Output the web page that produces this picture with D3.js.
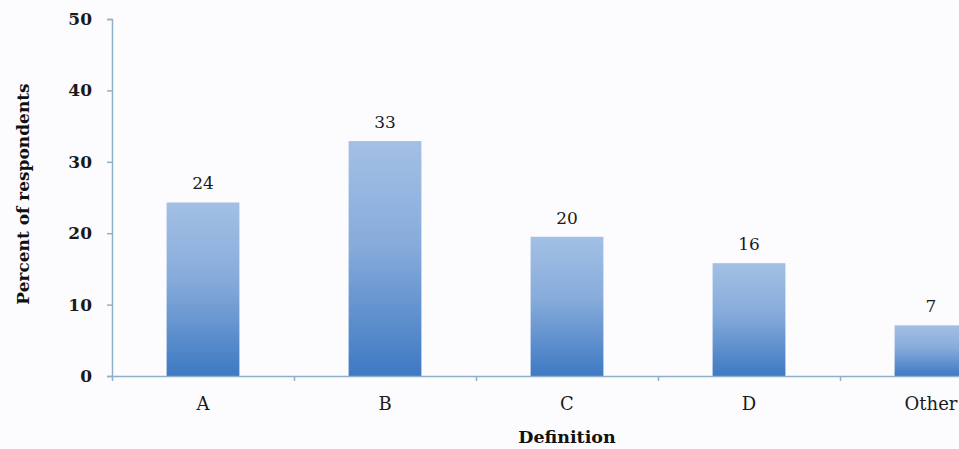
<!DOCTYPE html>
<html>
<head>
<meta charset="utf-8">
<script src="https://cdn.jsdelivr.net/npm/d3@7"></script>
<style>
    body { margin: 0; background: #fcfcfe; }
    svg { display: block; }
    .tick text { font-family: 'DejaVu Serif', serif; }
</style>
</head>
<body>
<div id="chart"></div>
<script>
// data
const categories = ['A', 'B', 'C', 'D', 'Other'];
const values = [24.3, 32.9, 19.5, 15.8, 7.1];
const valueLabels = ['24', '33', '20', '16', '7'];
const yTicks = [0, 10, 20, 30, 40, 50];

const W = 959, H = 449;
const margin = { top: 19, left: 112, bottom: 73 };
// the plot runs past the right edge, the last band is cut
const plotRight = 1022;
const axisColor = '#8fb0c6';

let svg = d3.select('#chart').append('svg')
    .attr('width', W)
    .attr('height', H);

svg.append('rect').attr('width', W).attr('height', H).attr('fill', '#fcfcfe');

let grad = svg.append('defs').append('linearGradient')
    .attr('id', 'barGrad')
    .attr('x1', 0).attr('y1', 0).attr('x2', 0).attr('y2', 1);
grad.append('stop').attr('offset', '0%').attr('stop-color', '#a3c0e4');
grad.append('stop').attr('offset', '45%').attr('stop-color', '#86abdb');
grad.append('stop').attr('offset', '100%').attr('stop-color', '#3e79c2');

const xScale = d3.scaleBand()
    .domain(categories)
    .range([margin.left, plotRight])
    .paddingInner(0.6)
    .paddingOuter(0.3);

const yScale = d3.scaleLinear()
    .domain([0, 50])
    .range([H - margin.bottom, margin.top]);

// bars
svg.selectAll('.bar').data(values).enter()
    .append('rect').classed('bar', true)
    .attr('x', function (d, i) { return xScale(categories[i]); })
    .attr('y', function (d) { return yScale(d); })
    .attr('width', xScale.bandwidth())
    .attr('height', function (d) { return yScale(0) - yScale(d); })
    .attr('fill', 'url(#barGrad)');

// value labels
svg.selectAll('.vlabel').data(values).enter()
    .append('text').classed('vlabel', true)
    .attr('x', function (d, i) { return xScale(categories[i]) + xScale.bandwidth() / 2; })
    .attr('y', function (d) { return yScale(d) - 13; })
    .attr('text-anchor', 'middle')
    .style('font-family', 'DejaVu Serif, serif')
    .style('font-size', '17px')
    .attr('fill', '#1a1a1a')
    .text(function (d, i) { return valueLabels[i]; });

// y axis
let yAxis = d3.axisLeft(yScale).tickValues(yTicks).tickSize(5).tickPadding(15);
let gy = svg.append('g')
    .attr('transform', 'translate(' + margin.left + ',0)')
    .call(yAxis);
gy.select('.domain').attr('stroke', axisColor).attr('stroke-width', 1.5);
gy.selectAll('.tick line').attr('stroke', axisColor).attr('stroke-width', 1.5);
gy.selectAll('.tick text')
    .style('font-size', '17px')
    .style('font-weight', 'bold')
    .attr('fill', '#1a1a1a');

// x axis: line with ticks on band edges, labels at band centers
let edges = d3.range(categories.length + 1).map(function (i) {
    return margin.left + i * xScale.step();
});
let edgeScale = d3.scaleLinear().domain([margin.left, plotRight]).range([margin.left, plotRight]);
let gx = svg.append('g')
    .attr('transform', 'translate(0,' + yScale(0) + ')')
    .call(d3.axisBottom(edgeScale).tickValues(edges).tickSize(5).tickSizeOuter(0).tickFormat(''));
gx.select('.domain').attr('stroke', axisColor).attr('stroke-width', 1.5);
gx.selectAll('.tick line').attr('stroke', axisColor).attr('stroke-width', 1.5);

let gxl = svg.append('g')
    .attr('transform', 'translate(0,' + yScale(0) + ')')
    .call(d3.axisBottom(xScale).tickSize(0).tickPadding(21));
gxl.select('.domain').remove();
gxl.selectAll('.tick text')
    .style('font-size', '18px')
    .attr('fill', '#1a1a1a');

// axis titles
svg.append('text')
    .attr('transform', 'translate(29,194) rotate(-90)')
    .attr('text-anchor', 'middle')
    .style('font-family', 'DejaVu Serif, serif')
    .style('font-weight', 'bold')
    .style('font-size', '17px')
    .attr('fill', '#111')
    .text('Percent of respondents');

svg.append('text')
    .attr('x', (margin.left + plotRight) / 2)
    .attr('y', 443)
    .attr('text-anchor', 'middle')
    .style('font-family', 'DejaVu Serif, serif')
    .style('font-weight', 'bold')
    .style('font-size', '17.5px')
    .attr('fill', '#111')
    .text('Definition');
</script>
</body>
</html>
